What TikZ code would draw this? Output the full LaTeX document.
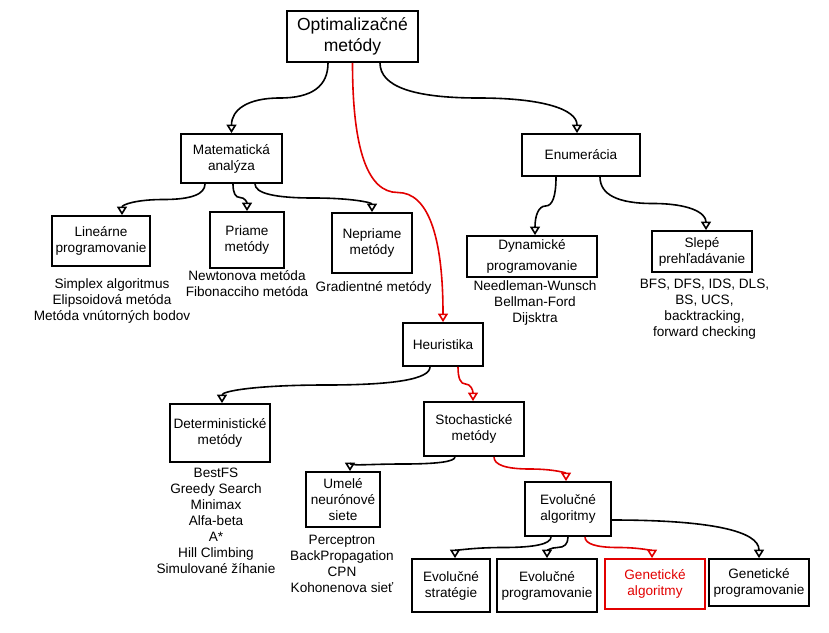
\documentclass[tikz,border=0pt]{standalone}
\usepackage{fontspec}
\setmainfont{Liberation Sans}
\usetikzlibrary{arrows.meta,calc}

\definecolor{hotred}{RGB}{226,0,0}

\tikzset{
  box/.style={draw, line width=1.8pt, align=center, inner sep=1pt,
    font=\fontsize{13.6}{16}\selectfont},
  list/.style={align=center, inner sep=0pt, font=\fontsize{13.6}{16}\selectfont},
  link/.style={line width=1.6pt, -{Triangle[open,length=8.5pt,width=10pt]}},
  curvy/.style={to path={let \p1=(\tikztostart), \p2=(\tikztotarget),
      \p3=($(\p1)!0.5!(\p2)$) in
      .. controls ($(\p1)!2/3!(\x1,\y3)$) and ($(\p3)!2/3!(\x1,\y3)$) .. (\p3)
      .. controls ($(\p3)!2/3!(\x2,\y3)$) and ($(\p2)!2/3!(\x2,\y3)$) .. (\p2)}}
}

\begin{document}
\begin{tikzpicture}[x=1pt,y=-1pt]
    \useasboundingbox (0,0) rectangle (829,632);

    \node[box, minimum width=131, minimum height=51, font=\fontsize{17.5}{21.5}\selectfont]
      (opt) at (352.5,36.5) {Optimalizačné\\metódy};

    \node[box, minimum width=101, minimum height=49] (mat) at (231.5,158.5) {Matematická\\analýza};
    \node[box, minimum width=118, minimum height=42] (enum) at (581,155) {Enumerácia};

    \node[box, minimum width=98, minimum height=50] (lin) at (101,241) {Lineárne\\programovanie};
    \node[box, minimum width=74, minimum height=56] (pri) at (247,240) {Priame\\metódy};
    \node[box, minimum width=80, minimum height=60] (nep) at (372,243) {Nepriame\\metódy};
    \node[box, minimum width=130, minimum height=41] (dyn) at (532,256.5) {Dynamické\\[5pt]programovanie};
    \node[box, minimum width=100, minimum height=41] (sle) at (702,251.5) {Slepé\\prehľadávanie};

    \node[list] (linlist) at (112,300.5) {Simplex algoritmus\\Elipsoidová metóda\\Metóda vnútorných bodov};
    \node[list] (prilist) at (247,283.5) {Newtonova metóda\\Fibonacciho metóda};
    \node[list] (neplist) at (373.5,287.5) {Gradientné metódy};
    \node[list] (dynlist) at (535,302.5) {Needleman-Wunsch\\Bellman-Ford\\Dijsktra};
    \node[list] (slelist) at (704.5,309) {BFS, DFS, IDS, DLS,\\BS, UCS,\\backtracking,\\forward checking};

    \node[box, minimum width=80, minimum height=43] (heu) at (443,344.5) {Heuristika};
    \node[box, minimum width=100, minimum height=58] (det) at (220,433) {Deterministické\\metódy};
    \node[box, minimum width=100, minimum height=54] (sto) at (474,429) {Stochastické\\metódy};
    \node[box, minimum width=74, minimum height=55] (ume) at (343,499.5) {Umelé\\neurónové\\siete};
    \node[box, minimum width=86, minimum height=54] (evo) at (568,509) {Evolučné\\algoritmy};

    \node[list] (detlist) at (216,521) {BestFS\\Greedy Search\\Minimax\\Alfa-beta\\A*\\Hill Climbing\\Simulované žíhanie};
    \node[list] (umelist) at (342,563.5) {Perceptron\\BackPropagation\\CPN\\Kohonenova sieť};

    \node[box, minimum width=78, minimum height=53] (str) at (451,585.5) {Evolučné\\stratégie};
    \node[box, minimum width=100, minimum height=53] (epr) at (547,585.5) {Evolučné\\programovanie};
    \node[box, minimum width=100, minimum height=50, draw=hotred, text=hotred] (gal) at (655,584) {Genetické\\algoritmy};
    \node[box, minimum width=100, minimum height=47] (gpr) at (759,582.5) {Genetické\\programovanie};

    % connectors
    \draw[link] ([xshift=-24.5]opt.south) to[curvy] (mat.north);
    \draw[link] ([xshift=27.5]opt.south) to[curvy] ([xshift=-4]enum.north);
    \draw[link, hotred] (opt.south) to[curvy] (heu.north);

    \draw[link] ([xshift=-26.5]mat.south) to[curvy] ([xshift=21]lin.north);
    \draw[link] ([xshift=1.5]mat.south) to[curvy] (pri.north);
    \draw[link] ([xshift=23.5]mat.south) to[curvy] (nep.north);

    \draw[link] ([xshift=-25]enum.south) to[curvy] ([xshift=3]dyn.north);
    \draw[link] ([xshift=19]enum.south) to[curvy] ([xshift=4]sle.north);

    \draw[link] ([xshift=-13]heu.south) to[curvy] ([xshift=2]det.north);
    \draw[link, hotred] ([xshift=15]heu.south) to[curvy] ([xshift=-1]sto.north);

    \draw[link] ([xshift=-19]sto.south) to[curvy] ([xshift=7]ume.north);
    \draw[link, hotred] ([xshift=20]sto.south) to[curvy] ([xshift=-2]evo.north);

    \draw[link] ([xshift=-17]evo.south) to[curvy] ([xshift=4]str.north);
    \draw[link] (evo.south) to[curvy] (epr.north);
    \draw[link, hotred] ([xshift=17]evo.south) to[curvy] ([xshift=-3]gal.north);
    \draw[link] ([yshift=-11]evo.east) .. controls +(99,0) and +(0,-27) .. (gpr.north);
\end{tikzpicture}
\end{document}
